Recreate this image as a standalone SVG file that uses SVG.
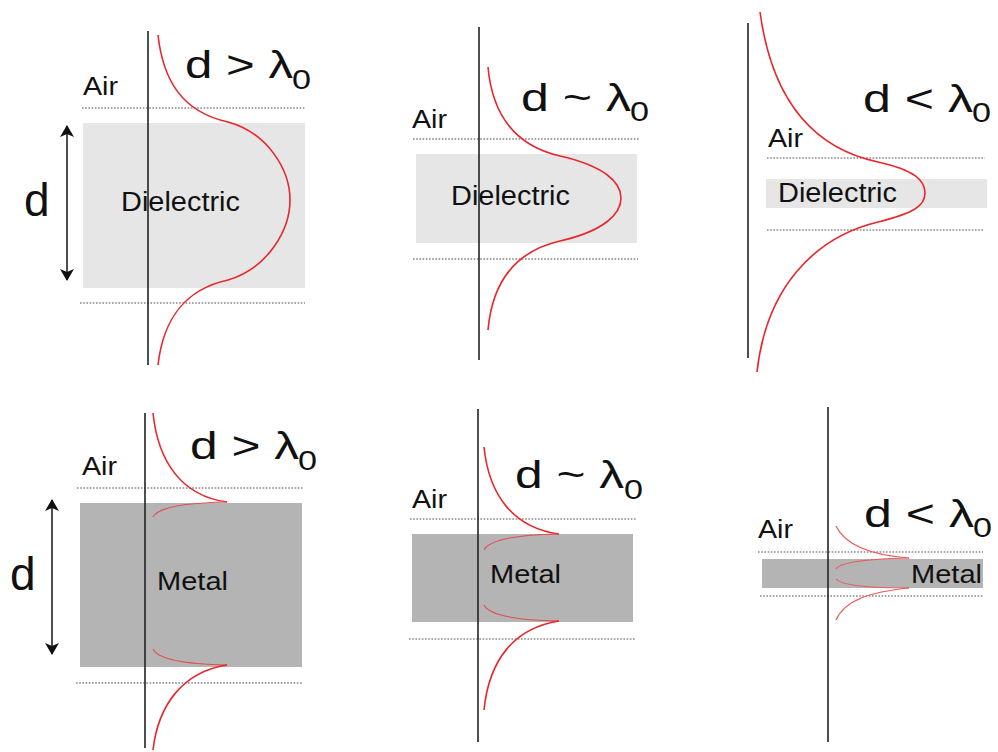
<svg xmlns="http://www.w3.org/2000/svg" width="998" height="752" viewBox="0 0 998 752">
<defs>
<style>
text{font-family:"Liberation Sans",Arial,sans-serif;fill:#111}
.air{font-size:25px}
.lab{font-size:27px}
.met{font-size:25px}
.ttl{font-size:39px}
.sub{font-size:27px}
.big{font-size:46px}
.axis{stroke:#222;stroke-width:1.6;fill:none}
.dot{stroke:#888;stroke-width:1.6;stroke-dasharray:1.6 1.6;fill:none}
.wave{stroke:#e8262b;stroke-width:1.6;fill:none}
.inner{stroke:#e54a4a;stroke-width:1.1;fill:none}
.wave2{stroke:#ec5a5a;stroke-width:1.2;fill:none}
.diel{fill:#e6e6e6}
.metal{fill:#b4b4b4}
.arr{stroke:#222;stroke-width:1.6;fill:none}
</style>
<marker id="ah" viewBox="0 0 12 16" refX="11" refY="8" markerWidth="12" markerHeight="16" markerUnits="userSpaceOnUse" orient="auto-start-reverse">
<path d="M0,1 L12,8 L0,15 L3,8 Z" fill="#111"/>
</marker>
</defs>

<g id="panel-dielectric-thick">
<rect class="diel" x="83" y="123" width="222" height="165"/>
<line class="dot" x1="82" y1="108" x2="306" y2="108"/>
<line class="dot" x1="80" y1="303" x2="305" y2="303"/>
<text class="air" x="83" y="95" textLength="35" lengthAdjust="spacingAndGlyphs">Air</text>
<text class="lab" x="121" y="211" textLength="119" lengthAdjust="spacingAndGlyphs">Dielectric</text>
<text class="big" x="24" y="216">d</text>
<line class="arr" x1="67" y1="126" x2="67" y2="280" marker-start="url(#ah)" marker-end="url(#ah)"/>
<text class="ttl" x="185" y="78" textLength="108" lengthAdjust="spacingAndGlyphs">d &gt; λ</text>
<text class="sub" x="292" y="89" textLength="19" lengthAdjust="spacingAndGlyphs">0</text>
<line class="axis" x1="148" y1="31" x2="148" y2="365"/>
<path class="wave" d="M158,35 C163,80 182,112 228,122 C268,133 290,170 290,200 C290,230 268,268 228,280 C182,290 163,322 158,365"/>
</g>

<g id="panel-dielectric-mid">
<rect class="diel" x="416" y="154" width="221" height="89"/>
<line class="dot" x1="413" y1="139" x2="640" y2="139"/>
<line class="dot" x1="413" y1="259" x2="638" y2="259"/>
<text class="air" x="412" y="128" textLength="35" lengthAdjust="spacingAndGlyphs">Air</text>
<text class="lab" x="451" y="205" textLength="119" lengthAdjust="spacingAndGlyphs">Dielectric</text>
<text class="ttl" x="521" y="111" textLength="110" lengthAdjust="spacingAndGlyphs">d ~ λ</text>
<text class="sub" x="630" y="121" textLength="19" lengthAdjust="spacingAndGlyphs">0</text>
<line class="axis" x1="479" y1="27" x2="479" y2="360"/>
<path class="wave" d="M488,67 C492,112 512,145 560,156 C604,166 621,182 621,198 C621,214 604,231 560,241 C512,252 492,285 488,330"/>
</g>

<g id="panel-dielectric-thin">
<rect class="diel" x="766" y="179" width="221" height="29"/>
<line class="dot" x1="767" y1="158" x2="985" y2="158"/>
<line class="dot" x1="767" y1="230" x2="983" y2="230"/>
<text class="air" x="768" y="147" textLength="35" lengthAdjust="spacingAndGlyphs">Air</text>
<text class="lab" x="778" y="202" textLength="119" lengthAdjust="spacingAndGlyphs">Dielectric</text>
<text class="ttl" x="863" y="112" textLength="110" lengthAdjust="spacingAndGlyphs">d &lt; λ</text>
<text class="sub" x="972" y="122" textLength="19" lengthAdjust="spacingAndGlyphs">0</text>
<line class="axis" x1="748" y1="23" x2="748" y2="358"/>
<path class="wave" d="M760,12 C772,100 812,148 878,162 C914,170 925,180 925,193 C925,206 914,213 878,222 C812,238 766,290 757,372"/>
</g>

<g id="panel-metal-thick">
<rect class="metal" x="80" y="503" width="222" height="164"/>
<line class="dot" x1="77" y1="488" x2="303" y2="488"/>
<line class="dot" x1="76" y1="683" x2="302" y2="683"/>
<text class="air" x="82" y="475" textLength="35" lengthAdjust="spacingAndGlyphs">Air</text>
<text class="met" x="157" y="590" textLength="71" lengthAdjust="spacingAndGlyphs">Metal</text>
<text class="big" x="10" y="590">d</text>
<line class="arr" x1="52" y1="500" x2="52" y2="654" marker-start="url(#ah)" marker-end="url(#ah)"/>
<text class="ttl" x="190" y="459" textLength="109" lengthAdjust="spacingAndGlyphs">d &gt; λ</text>
<text class="sub" x="298" y="470" textLength="19" lengthAdjust="spacingAndGlyphs">0</text>
<line class="axis" x1="145" y1="413" x2="145" y2="748"/>
<path class="wave" d="M153,413 C158,462 182,496 227,502"/>
<path class="inner" d="M227,502 C175,503 157,509 153,517"/>
<path class="inner" d="M153,649 C157,657 175,664 227,665"/>
<path class="wave" d="M227,665 C182,672 158,706 153,750"/>
</g>

<g id="panel-metal-mid">
<rect class="metal" x="412" y="534" width="221" height="88"/>
<line class="dot" x1="410" y1="519" x2="636" y2="519"/>
<line class="dot" x1="409" y1="639" x2="635" y2="639"/>
<text class="air" x="412" y="508" textLength="35" lengthAdjust="spacingAndGlyphs">Air</text>
<text class="met" x="490" y="583" textLength="71" lengthAdjust="spacingAndGlyphs">Metal</text>
<text class="ttl" x="515" y="488" textLength="109" lengthAdjust="spacingAndGlyphs">d ~ λ</text>
<text class="sub" x="624" y="499" textLength="19" lengthAdjust="spacingAndGlyphs">0</text>
<line class="axis" x1="478" y1="409" x2="478" y2="742"/>
<path class="wave" d="M484,447 C489,496 514,528 559,534"/>
<path class="inner" d="M559,534 C504,535 488,542 484,550"/>
<path class="inner" d="M484,605 C488,613 504,620 559,621"/>
<path class="wave" d="M559,621 C514,628 489,660 484,710"/>
</g>

<g id="panel-metal-thin">
<rect class="metal" x="762" y="559" width="221" height="29"/>
<line class="dot" x1="758" y1="552" x2="983" y2="552"/>
<line class="dot" x1="760" y1="596" x2="983" y2="596"/>
<text class="air" x="758" y="538" textLength="35" lengthAdjust="spacingAndGlyphs">Air</text>
<text class="met" x="911" y="583" textLength="71" lengthAdjust="spacingAndGlyphs">Metal</text>
<text class="ttl" x="864" y="527" textLength="110" lengthAdjust="spacingAndGlyphs">d &lt; λ</text>
<text class="sub" x="973" y="537" textLength="19" lengthAdjust="spacingAndGlyphs">0</text>
<line class="axis" x1="828" y1="407" x2="828" y2="742"/>
<path class="wave2" d="M836,526 C845,545 870,555 909,558"/>
<path class="wave2" d="M909,558 C862,559 840,563 836,569"/>
<path class="wave2" d="M836,579 C840,584 862,588 909,588"/>
<path class="wave2" d="M909,588 C870,592 845,600 836,620"/>
</g>

<g id="connectors"></g>
</svg>
